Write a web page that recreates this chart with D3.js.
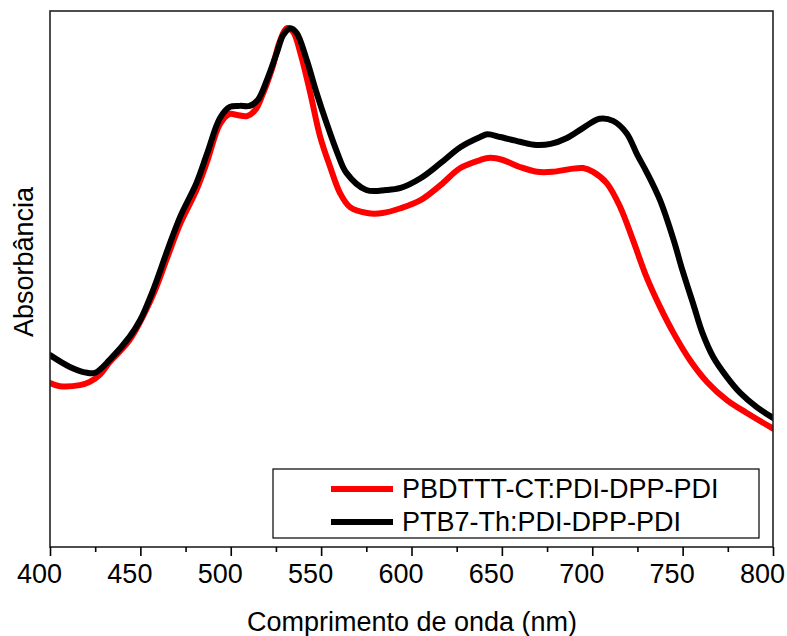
<!DOCTYPE html>
<html>
<head>
<meta charset="utf-8">
<script src="https://cdn.jsdelivr.net/npm/d3@7"></script>
<style>
  html, body { margin: 0; padding: 0; background: #fff; }
  svg { display: block; }
  text { font-family: "Liberation Sans", Arial, sans-serif; fill: #000; }
</style>
</head>
<body>
<svg id="chart" width="787" height="636"></svg>
<script>
// Absorption spectra of the two blend films (normalised absorbance, a.u.)
const seriesNames = ["PBDTTT-CT:PDI-DPP-PDI", "PTB7-Th:PDI-DPP-PDI"];
const seriesColors = ["#ff0000", "#000000"];

const wlPBDTTT = [400, 405.5, 416.5, 422, 427.5, 433, 444, 457, 465, 472,
  481, 487, 494, 499.5, 503.5, 509, 513.5, 517.5, 523, 527,
  531, 534.5, 538.5, 544, 549.5, 555, 560.5, 566, 575.5, 584,
  594, 605, 616, 627, 638, 643.5, 650.5, 660, 669.5, 678,
  687.5, 695, 700.5, 708, 715.5, 722.5, 730, 737.5, 745, 754,
  763.5, 774.5, 785.5, 800];
const absPBDTTT = [0.306, 0.300, 0.302, 0.308, 0.321, 0.345, 0.386, 0.470, 0.541, 0.603,
  0.666, 0.720, 0.789, 0.808, 0.806, 0.804, 0.815, 0.843, 0.894, 0.942,
  0.968, 0.961, 0.922, 0.847, 0.765, 0.709, 0.660, 0.634, 0.623, 0.623,
  0.632, 0.647, 0.675, 0.707, 0.722, 0.726, 0.722, 0.709, 0.700, 0.700,
  0.705, 0.707, 0.700, 0.679, 0.634, 0.573, 0.504, 0.448, 0.399, 0.349,
  0.308, 0.274, 0.250, 0.221];

const wlPTB7 = [400, 411, 420.5, 425, 433, 444, 450, 457, 465, 472,
  481, 487, 494, 499.5, 505, 510.5, 515, 520, 525.5, 529,
  533, 536.5, 542, 547.5, 553, 559, 564, 575, 586, 594,
  605, 616, 627, 638, 642, 649, 660, 669, 677, 686,
  695, 704, 711.5, 719, 725, 730, 737.5, 745, 750, 756,
  761, 767, 774.5, 782, 791, 800];
const absPTB7 = [0.358, 0.336, 0.325, 0.325, 0.349, 0.392, 0.424, 0.479, 0.554, 0.616,
  0.679, 0.735, 0.800, 0.821, 0.823, 0.823, 0.834, 0.871, 0.922, 0.955,
  0.968, 0.959, 0.909, 0.847, 0.791, 0.735, 0.698, 0.666, 0.666, 0.670,
  0.688, 0.716, 0.746, 0.765, 0.770, 0.765, 0.756, 0.750, 0.752, 0.763,
  0.782, 0.799, 0.795, 0.772, 0.731, 0.700, 0.647, 0.573, 0.515, 0.452,
  0.399, 0.354, 0.317, 0.287, 0.261, 0.241];

const xMajorTicks = [400, 450, 500, 550, 600, 650, 700, 750, 800];
const xMinorTicks = [425, 475, 525, 575, 625, 675, 725, 775];

const xTitle = "Comprimento de onda (nm)";
const yTitle = "Absorbância";

// Layout
const plot = { left: 50, right: 773, top: 11, bottom: 547 };

const svg = d3.select("#chart");

const x = d3.scaleLinear().domain([400, 800]).range([plot.left, plot.right]);
const y = d3.scaleLinear().domain([0, 1]).range([plot.bottom, plot.top]);

svg.append("defs").append("clipPath").attr("id", "plot-clip")
  .append("rect")
  .attr("x", plot.left).attr("y", plot.top)
  .attr("width", plot.right - plot.left).attr("height", plot.bottom - plot.top);

const series = [
  { name: seriesNames[0], color: seriesColors[0], pts: wlPBDTTT.map((w, i) => [w, absPBDTTT[i]]) },
  { name: seriesNames[1], color: seriesColors[1], pts: wlPTB7.map((w, i) => [w, absPTB7[i]]) }
];

const line = d3.line()
  .x(d => x(d[0]))
  .y(d => y(d[1]))
  .curve(d3.curveCatmullRom.alpha(0.5));

svg.append("g").attr("clip-path", "url(#plot-clip)")
  .selectAll("path")
  .data(series)
  .join("path")
  .attr("d", d => line(d.pts))
  .attr("fill", "none")
  .attr("stroke", d => d.color)
  .attr("stroke-width", 6)
  .attr("stroke-linejoin", "round")
  .attr("stroke-linecap", "round");

// Frame
svg.append("rect")
  .attr("x", plot.left).attr("y", plot.top)
  .attr("width", plot.right - plot.left).attr("height", plot.bottom - plot.top)
  .attr("fill", "none").attr("stroke", "#222").attr("stroke-width", 1.6);

// Bottom axis: major ticks with labels, minor ticks without
const xAxisMajor = d3.axisBottom(x).tickValues(xMajorTicks).tickSize(9).tickPadding(8)
  .tickFormat(d3.format("d"));
const gMajor = svg.append("g").attr("transform", `translate(0,${plot.bottom})`).call(xAxisMajor);
gMajor.select(".domain").remove();
gMajor.selectAll(".tick line").attr("stroke", "#000").attr("stroke-width", 1.6);
gMajor.selectAll(".tick text")
  .attr("font-family", "Liberation Sans, Arial, sans-serif")
  .attr("font-size", 27)
  .attr("dx", -11)
  .attr("fill", "#000");

const xAxisMinor = d3.axisBottom(x).tickValues(xMinorTicks).tickSize(5).tickFormat("");
const gMinor = svg.append("g").attr("transform", `translate(0,${plot.bottom})`).call(xAxisMinor);
gMinor.select(".domain").remove();
gMinor.selectAll(".tick line").attr("stroke", "#000").attr("stroke-width", 1.6);

// Axis titles
svg.append("text")
  .attr("x", (plot.left + plot.right) / 2 + 0.5)
  .attr("y", 631)
  .attr("text-anchor", "middle")
  .attr("font-size", 27)
  .text(xTitle);

svg.append("text")
  .attr("transform", `translate(33,262) rotate(-90)`)
  .attr("text-anchor", "middle")
  .attr("font-size", 27)
  .text(yTitle);

// Legend
const legend = svg.append("g");
legend.append("rect")
  .attr("x", 273).attr("y", 469).attr("width", 486).attr("height", 69)
  .attr("fill", "#fff").attr("stroke", "#000").attr("stroke-width", 1.2);

const rows = legend.selectAll("g.row").data(series).join("g").attr("class", "row")
  .attr("transform", (d, i) => `translate(0,${489 + i * 33})`);
rows.append("line")
  .attr("x1", 331).attr("x2", 393).attr("y1", 0).attr("y2", 0)
  .attr("stroke", d => d.color).attr("stroke-width", 6);
rows.append("text")
  .attr("x", 402).attr("y", 8.5)
  .attr("font-size", 27)
  .text(d => d.name);
</script>
</body>
</html>
